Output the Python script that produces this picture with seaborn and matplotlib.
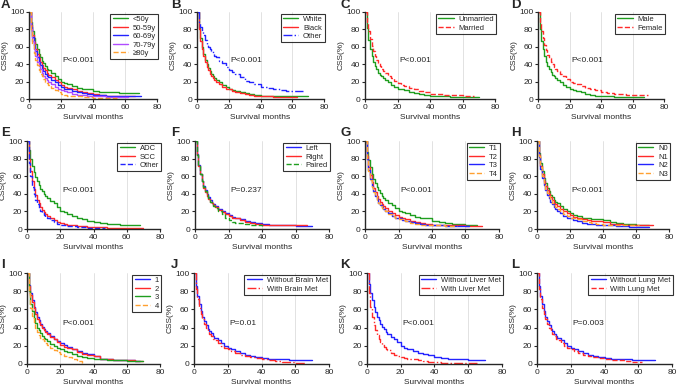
import numpy as np
import matplotlib
matplotlib.use("Agg")
import matplotlib.pyplot as plt
import seaborn as sns

sns.set_style("ticks")
plt.rcParams['font.family'] = ['Liberation Sans', 'DejaVu Sans']

# shared time grid (months)
T = [0, 1, 2, 3, 4, 5, 6, 7, 8, 9, 10, 11, 12, 14, 16, 18, 20, 22, 24, 27, 30,
     33, 36, 40, 44, 48, 52, 56, 60, 65, 70]
N = None

GREEN = "#1f9e1f"; RED = "#ff2a2a"; BLUE = "#2323ff"; PURPLE = "#b04cff"; ORANGE = "#ffa030"

panels = [
    dict(letter="A", p="P<0.001",
         names=["<50y", "50-59y", "60-69y", "70-79y", "≥80y"],
         ends=[69, 66, 70, 62, 55],
         vals=[[100, 88, 78, 70, 63, 57, 52, 48, 44, 41, 38, 35, 33, 30, 26, 23, 20, 18, 17, 15, 13, 12, 11, 9, 8, 8, 8, 7, 7, 7, N],
               [100, 85, 74, 65, 58, 52, 47, 43, 39, 36, 33, 30, 28, 25, 22, 19, 16, 14, 13, 11, 9, 8, 7, 6, 5, 4, 4, 3, 3, 3, N],
               [100, 83, 71, 62, 55, 48, 43, 39, 35, 32, 29, 27, 25, 22, 19, 16, 14, 12, 11, 9, 8, 7, 6, 5, 5, 4, 4, 4, 4, 4, 4],
               [100, 80, 67, 57, 49, 43, 38, 34, 30, 27, 24, 22, 20, 17, 14, 12, 10, 9, 8, 6, 5, 5, 4, 3, 3, 2, 2, 2, 2, N, N],
               [100, 78, 63, 53, 45, 39, 33, 29, 26, 23, 20, 18, 16, 13, 10, 8, 6, 5, 4, 3, 3, 2, 2, 1, 1, 1, 1, N, N, N, N]],
         colors=[GREEN, RED, BLUE, PURPLE, ORANGE], styles=["-", "-", "-", "-", "--"]),
    dict(letter="B", p="P<0.001",
         names=["White", "Black", "Other"],
         ends=[70, 63, 67],
         vals=[[100, 82, 70, 60, 52, 45, 40, 36, 32, 29, 26, 24, 22, 19, 16, 14, 12, 10, 9, 8, 7, 6, 5, 4, 4, 3, 3, 3, 3, 3, 3],
               [100, 80, 67, 57, 49, 43, 37, 33, 29, 26, 24, 22, 20, 17, 14, 12, 11, 9, 8, 7, 6, 5, 4, 3, 3, 2, 2, 2, 2, N, N],
               [100, 88, 83, 78, 73, 68, 63, 60, 58, 55, 53, 50, 48, 44, 41, 37, 33, 31, 29, 25, 21, 19, 17, 14, 13, 12, 10, 9, 9, 9, N]],
         colors=[GREEN, RED, BLUE], styles=["-", "-", "-."]),
    dict(letter="C", p="P<0.001",
         names=["Unmarried", "Married"],
         ends=[70, 67],
         vals=[[100, 82, 68, 58, 50, 43, 38, 34, 30, 28, 26, 24, 22, 19, 16, 14, 12, 11, 10, 8, 7, 6, 5, 4, 3, 3, 2, 2, 2, 2, 2],
               [100, 88, 78, 69, 61, 55, 49, 45, 41, 38, 35, 32, 30, 27, 24, 21, 18, 16, 15, 13, 11, 9, 8, 6, 6, 5, 5, 5, 4, 4, N]],
         colors=[GREEN, RED], styles=["-", "--"]),
    dict(letter="D", p="P<0.001",
         names=["Male", "Female"],
         ends=[67, 70],
         vals=[[100, 80, 67, 57, 49, 43, 38, 34, 31, 28, 26, 24, 22, 19, 16, 14, 12, 10, 9, 8, 6, 5, 4, 3, 3, 2, 2, 2, 2, 2, N],
               [100, 88, 78, 70, 62, 56, 51, 47, 43, 40, 37, 34, 32, 29, 26, 23, 20, 18, 17, 15, 13, 11, 10, 8, 7, 6, 6, 5, 5, 5, 5]],
         colors=[GREEN, RED], styles=["-", "--"]),
    dict(letter="E", p="P<0.001",
         names=["ADC", "SCC", "Other"],
         ends=[68, 70, 47],
         vals=[[100, 90, 80, 72, 65, 59, 54, 50, 46, 43, 40, 37, 35, 32, 29, 25, 21, 19, 17, 15, 12, 11, 9, 8, 7, 6, 6, 5, 4, 4, N],
               [100, 80, 66, 55, 46, 39, 33, 29, 25, 22, 19, 17, 15, 12, 10, 8, 7, 6, 5, 4, 3, 3, 2, 2, 2, 1, 1, 1, 1, 1, 1],
               [100, 75, 60, 48, 40, 33, 28, 24, 21, 18, 16, 14, 12, 10, 8, 6, 5, 4, 3, 3, 2, 2, 1, 1, 1, N, N, N, N, N, N]],
         colors=[GREEN, RED, BLUE], styles=["-", "-", "--"]),
    dict(letter="F", p="P=0.237",
         names=["Left", "Right", "Paired"],
         ends=[70, 67, 40],
         vals=[[100, 85, 73, 63, 55, 49, 44, 40, 36, 33, 30, 28, 26, 23, 20, 18, 16, 14, 13, 11, 9, 8, 7, 6, 5, 5, 4, 4, 3, 3, 3],
               [100, 84, 72, 62, 54, 47, 42, 38, 34, 31, 29, 27, 25, 22, 19, 17, 15, 13, 12, 10, 8, 7, 6, 5, 5, 4, 4, 4, 4, 4, N],
               [100, 84, 72, 62, 55, 48, 43, 39, 35, 31, 28, 26, 24, 20, 17, 12, 10, 8, 7, 7, 6, 5, 5, 3, N, N, N, N, N, N, N]],
         colors=[BLUE, RED, GREEN], styles=["-", "-", "--"]),
    dict(letter="G", p="P<0.001",
         names=["T1", "T2", "T3", "T4"],
         ends=[67, 70, 62, 55],
         vals=[[100, 88, 78, 70, 63, 57, 52, 48, 44, 41, 38, 35, 33, 30, 27, 24, 21, 19, 18, 16, 14, 13, 12, 9, 8, 7, 6, 6, 5, 5, N],
               [100, 83, 71, 61, 53, 47, 42, 38, 34, 31, 28, 26, 24, 21, 18, 16, 14, 12, 11, 9, 8, 7, 6, 5, 5, 4, 4, 4, 3, 3, 3],
               [100, 80, 67, 57, 49, 43, 38, 34, 30, 27, 25, 23, 21, 18, 15, 13, 12, 10, 9, 8, 7, 6, 5, 4, 4, 3, 3, 3, 3, N, N],
               [100, 80, 66, 56, 48, 42, 37, 33, 29, 26, 24, 22, 20, 17, 15, 13, 11, 10, 9, 7, 6, 5, 5, 4, 4, 3, 3, N, N, N, N]],
         colors=[GREEN, RED, BLUE, ORANGE], styles=["-", "-", "-", "--"]),
    dict(letter="H", p="P<0.001",
         names=["N0", "N1", "N2", "N3"],
         ends=[68, 70, 68, 62],
         vals=[[100, 86, 75, 66, 58, 52, 47, 43, 39, 36, 33, 31, 29, 26, 23, 20, 18, 16, 15, 13, 12, 11, 11, 10, 8, 7, 6, 6, 5, 5, N],
               [100, 84, 72, 62, 55, 49, 44, 40, 36, 33, 30, 28, 26, 23, 20, 18, 16, 14, 13, 11, 10, 9, 9, 8, 6, 6, 5, 5, 5, 5, 5],
               [100, 82, 68, 58, 50, 44, 39, 35, 31, 28, 25, 23, 21, 18, 15, 13, 12, 10, 9, 7, 6, 6, 5, 5, 4, 3, 3, 2, 2, 2, N],
               [100, 83, 70, 60, 52, 46, 41, 37, 33, 30, 27, 25, 23, 20, 17, 15, 13, 12, 11, 9, 8, 7, 6, 5, 5, 4, 4, 4, 4, N, N]],
         colors=[GREEN, RED, BLUE, ORANGE], styles=["-", "-", "-", "--"]),
    dict(letter="I", p="P<0.001",
         names=["1", "2", "3", "4"],
         ends=[68, 70, 70, 34],
         vals=[[100, 87, 78, 70, 63, 57, 52, 48, 44, 41, 39, 36, 34, 31, 28, 25, 23, 21, 19, 17, 14, 12, 11, 9, 6, 5, 4, 4, 4, 3, N],
               [100, 86, 76, 68, 61, 55, 50, 46, 43, 40, 37, 35, 33, 30, 27, 24, 21, 19, 18, 16, 13, 11, 10, 9, 6, 5, 4, 4, 4, 3, 3],
               [100, 80, 66, 58, 51, 45, 40, 37, 34, 31, 29, 27, 25, 22, 20, 18, 16, 14, 13, 11, 9, 8, 7, 6, 5, 4, 4, 4, 3, 3, 3],
               [100, 78, 62, 53, 46, 40, 35, 32, 29, 27, 25, 23, 21, 18, 15, 13, 11, 9, 8, 6, 3, 1, N, N, N, N, N, N, N, N, N]],
         colors=[BLUE, RED, GREEN, ORANGE], styles=["-", "-", "-", "--"]),
    dict(letter="J", p="P=0.01",
         names=["Without Brain Met", "With Brain Met"],
         ends=[70, 66],
         vals=[[100, 86, 75, 66, 58, 52, 47, 43, 39, 36, 34, 31, 29, 26, 23, 20, 18, 16, 14, 12, 10, 9, 8, 7, 6, 5, 5, 4, 4, 4, 4],
               [100, 82, 71, 62, 55, 49, 44, 40, 36, 33, 31, 28, 26, 23, 20, 18, 16, 14, 12, 10, 9, 8, 7, 5, 4, 3, 2, 2, 1, 1, N]],
         colors=[BLUE, RED], styles=["-", "-."]),
    dict(letter="K", p="P<0.001",
         names=["Without Liver Met", "With Liver Met"],
         ends=[70, 65],
         vals=[[100, 88, 78, 70, 63, 57, 52, 48, 44, 41, 38, 35, 33, 30, 27, 24, 20, 18, 16, 14, 12, 11, 10, 8, 7, 6, 5, 5, 4, 4, 4],
               [100, 78, 63, 52, 43, 37, 32, 28, 24, 21, 19, 17, 15, 12, 10, 9, 8, 7, 6, 5, 4, 3, 2, 2, 1, 1, 1, 1, 1, 1, N]],
         colors=[BLUE, RED], styles=["-", "-."]),
    dict(letter="L", p="P=0.003",
         names=["Without Lung Met", "With Lung Met"],
         ends=[70, 62],
         vals=[[100, 86, 75, 66, 58, 52, 47, 43, 39, 36, 33, 31, 29, 26, 23, 20, 18, 16, 14, 12, 10, 9, 8, 7, 6, 5, 5, 4, 4, 4, 4],
               [100, 82, 71, 62, 55, 49, 44, 40, 36, 33, 31, 28, 26, 23, 20, 18, 16, 14, 12, 10, 9, 8, 7, 5, 4, 4, 3, 2, 2, N, N]],
         colors=[BLUE, RED], styles=["-", "--"]),
]

W, H = 677, 389
# axes rectangles in pixels: left, top, right, bottom
rects = [(29, 12, 157, 99), (197, 12, 324, 99), (365, 12, 495, 99), (538, 12, 664, 99),
         (27, 141, 160, 229), (195, 141, 329, 229), (365, 141, 499, 229), (537, 141, 669, 229),
         (27, 273, 160, 364), (194, 273, 329, 364), (367, 273, 502, 364), (537, 273, 672, 364)]
letter_pos = [(1, 5), (171, 5), (340, 5), (511, 5),
              (1, 133), (171, 133), (340, 133), (511, 133),
              (1, 265), (171, 265), (340, 265), (511, 265)]

fig = plt.figure(figsize=(W / 100, H / 100), dpi=100)
for pn, (l, t, r, b), (lx, ly) in zip(panels, rects, letter_pos):
    ax = fig.add_axes([l / W, 1 - b / H, (r - l) / W, (b - t) / H])
    ax.grid(axis="x", color="#dddddd", linewidth=0.6)
    ax.set_axisbelow(True)
    for name, vals, end, c, ls in zip(pn["names"], pn["vals"], pn["ends"], pn["colors"], pn["styles"]):
        tt = [ti for ti, v in zip(T, vals) if v is not None]
        vv = [v for v in vals if v is not None]
        tt = tt + [end]
        vv = vv + [vv[-1]]
        sns.lineplot(x=tt, y=vv, ax=ax, color=c, linestyle=ls, linewidth=1.0,
                     drawstyle="steps-post", estimator=None, sort=False, label=name)
    ax.set_xlim(0, 80)
    ax.set_ylim(0, 100)
    ax.set_xticks([0, 20, 40, 60, 80])
    ax.set_yticks([0, 20, 40, 60, 80, 100])
    ax.tick_params(labelsize=6, length=2.5, width=0.8, pad=1)
    ax.set_xlabel("Survival months", fontsize=6, labelpad=2)
    ax.set_ylabel("CSS(%)", fontsize=6, labelpad=1)
    for s in ["top", "right"]:
        ax.spines[s].set_visible(False)
    for s in ["left", "bottom"]:
        ax.spines[s].set_linewidth(1.0)
    ax.text(21, 44, pn["p"], fontsize=6, va="center", ha="left")
    leg = ax.legend(loc="upper right", bbox_to_anchor=(1.02, 1.0), fontsize=5.5, frameon=True,
                    fancybox=False, edgecolor="black", handlelength=2.0, handletextpad=0.6,
                    borderpad=0.3, labelspacing=0.15, borderaxespad=0.2)
    leg.get_frame().set_linewidth(0.8)
    fig.text(lx / W, 1 - ly / H, pn["letter"], fontsize=9.5, fontweight="bold", va="center", ha="left")

fig.savefig("out.png", dpi=100)
